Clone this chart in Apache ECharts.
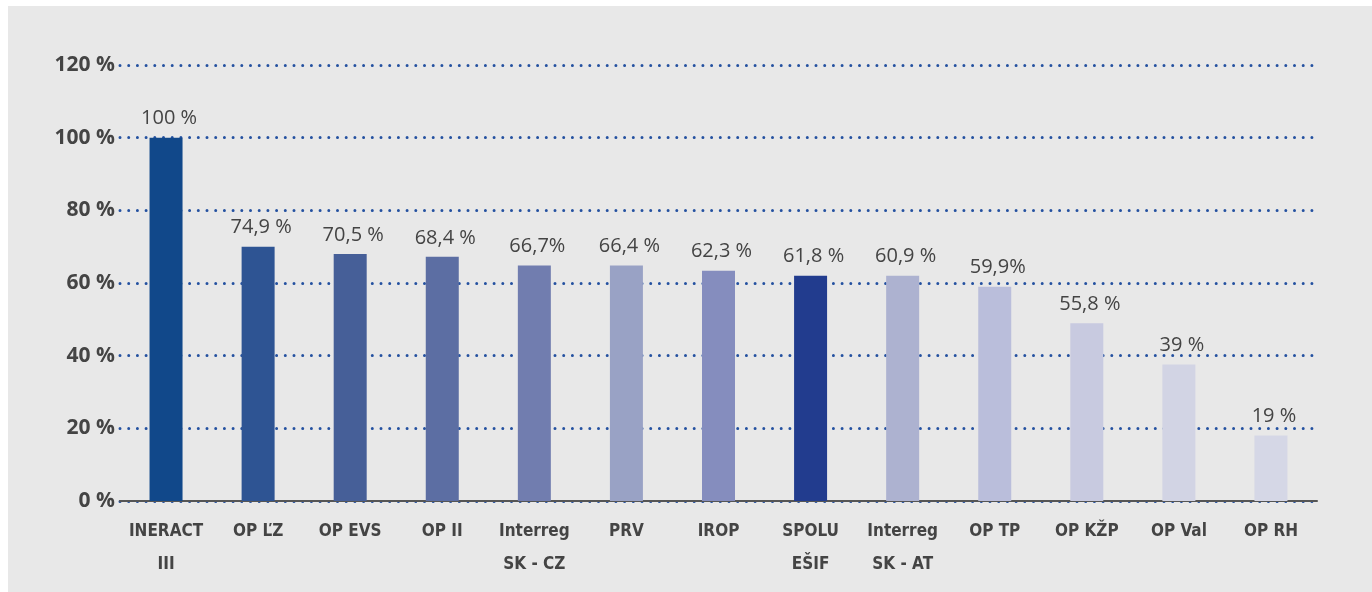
<!DOCTYPE html>
<html>
<head>
<meta charset="utf-8">
<script src="https://cdn.jsdelivr.net/npm/echarts@6/dist/echarts.min.js"></script>
<style>
    body { margin: 0; background: #ffffff; }
    #chart { position: absolute; left: 8px; top: 6px; width: 1364px; height: 586px; background: #e8e8e8; }
</style>
</head>
<body>
<div id="chart"></div>
<script>
const categories = ['INERACT\nIII', 'OP ĽZ', 'OP EVS', 'OP II', 'Interreg\nSK - CZ', 'PRV', 'IROP',
    'SPOLU\nEŠIF', 'Interreg\nSK - AT', 'OP TP', 'OP KŽP', 'OP Val', 'OP RH']
// bar heights as drawn in the picture
const values = [100, 70, 68, 67.2, 64.8, 64.8, 63.4, 62, 62, 59, 48.9, 37.6, 18]
// texts printed above the bars
const valueLabels = ['100 %', '74,9 %', '70,5 %', '68,4 %', '66,7%', '66,4 %', '62,3 %',
    '61,8 %', '60,9 %', '59,9%', '55,8 %', '39 %', '19 %']
const barColors = ['#11488a', '#2e5493', '#465f98', '#5c6ea3', '#717daf', '#99a2c5', '#858dbe',
    '#223c8e', '#adb2d0', '#babedb', '#c8cae0', '#d2d4e4', '#d5d7e6']
const yTicks = [0, 20, 40, 60, 80, 100, 120]

let chart = echarts.init(document.getElementById('chart'))

function createData() {
    let option = {
        animation: false,
        grid: { left: 112, right: 55, top: 59, bottom: 91 },
        xAxis: {
            type: 'category',
            data: categories,
            axisTick: { show: false },
            axisLine: { lineStyle: { color: '#555555', width: 2 } },
            axisLabel: {
                interval: 0,
                margin: 14,
                color: '#444444',
                fontFamily: '"DejaVu Sans Condensed", "Liberation Sans Narrow", sans-serif',
                fontWeight: 'bold',
                fontSize: 17,
                lineHeight: 33
            }
        },
        yAxis: {
            type: 'value',
            min: yTicks[0],
            max: yTicks[yTicks.length - 1],
            interval: 20,
            axisLine: { show: false },
            axisTick: { show: false },
            axisLabel: {
                margin: 5,
                color: '#444444',
                fontFamily: '"Open Sans", sans-serif',
                fontWeight: 'bold',
                fontSize: 21,
                formatter: v => v + ' %'
            },
            splitLine: {
                lineStyle: { color: '#2451a0', width: 3, type: [0, 8.7], cap: 'round' }
            }
        },
        series: [
            {
                type: 'bar',
                barWidth: 33,
                data: values.map((v, i) => ({ value: v, itemStyle: { color: barColors[i] } })),
                label: {
                    show: true,
                    position: 'top',
                    distance: 9,
                    offset: [3, 0],
                    color: '#444444',
                    fontFamily: '"Open Sans", sans-serif',
                    fontSize: 20,
                    formatter: p => valueLabels[p.dataIndex]
                }
            }
        ]
    }
    return option
}

chart.setOption(createData())
</script>
</body>
</html>
